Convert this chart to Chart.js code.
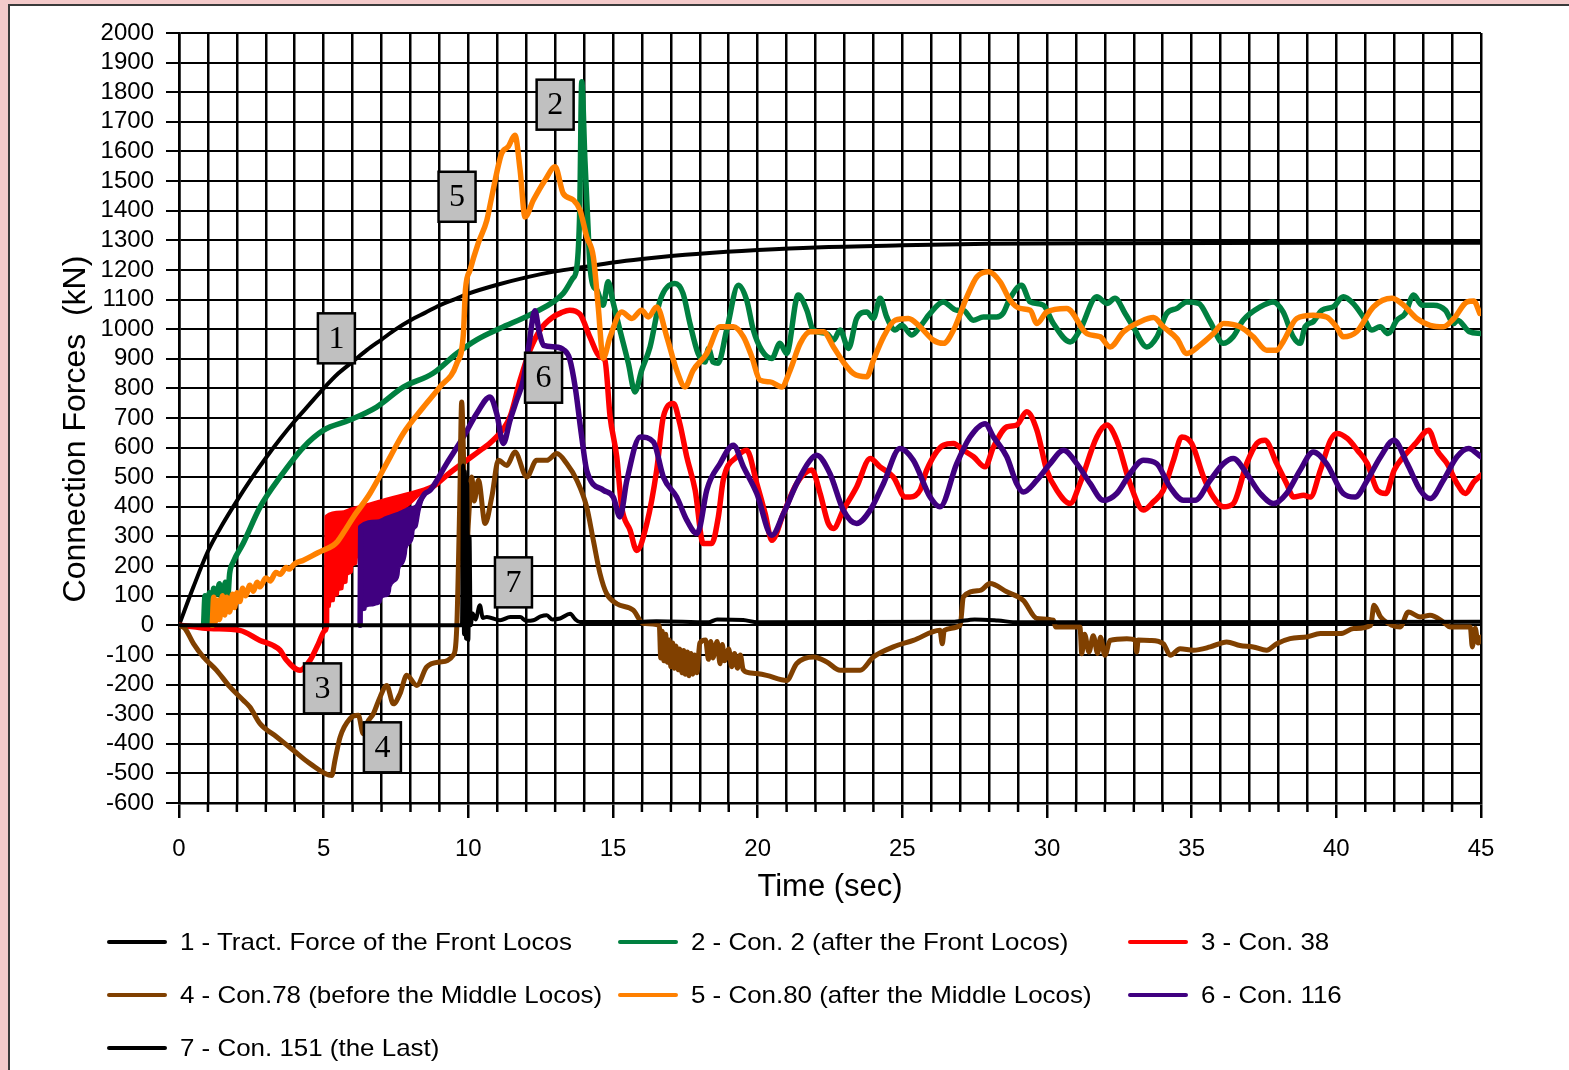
<!DOCTYPE html>
<html>
<head>
<meta charset="utf-8">
<script src="https://cdn.jsdelivr.net/npm/chart.js@4.4.1/dist/chart.umd.min.js"></script>
<style>
  html, body { margin: 0; padding: 0; width: 1569px; height: 1070px; overflow: hidden; background: #F4CACA; }
  #panel { position: absolute; left: 8px; top: 4px; width: 1600px; height: 1100px; background: #fff;
           border: 2px solid #3a3a3a; box-sizing: border-box; }
  #wrap { position: absolute; left: 0; top: 0; width: 1569px; height: 910px; }
  #legend { position: absolute; left: 0; top: 0; width: 1569px; height: 1070px;
            font-family: "Liberation Sans", Arial, sans-serif; font-size: 24px; color: #000; }
  .item { position: absolute; display: flex; align-items: center; height: 30px; }
  .swatch { width: 60px; height: 4px; margin-right: 13px; border-radius: 2px; }
  .lbl { transform: scaleX(1.08); transform-origin: left center; white-space: pre; }
</style>
</head>
<body>
<div id="panel"></div>
<div id="wrap"><canvas id="chart"></canvas></div>
<div id="legend"></div>
<script>
// Connection forces along the train, [time s, force kN]

const seriesNames = [
  '1 - Tract. Force of the Front Locos',
  '2 - Con. 2 (after the Front Locos)',
  '3 - Con. 38',
  '4 - Con.78 (before the Middle Locos)',
  '5 - Con.80 (after the Middle Locos)',
  '6 - Con. 116',
  '7 - Con. 151 (the Last)'
];
const seriesColors = ['#000000', '#008040', '#FF0000', '#804000', '#FF8000', '#400080', '#000000'];

const tractForce = [[0,0],[0.5,130],[1,250],[1.5,340],[2,420],[2.5,495],[3,565],[3.5,630],[4,690],[4.5,745],
  [5,800],[5.5,850],[6,890],[6.5,930],[7,965],[7.5,1000],[8,1030],[8.5,1055],[9,1080],[9.5,1100],[10,1120],
  [11,1150],[12,1175],[13,1195],[14,1210],[15,1225],[16,1237],[17,1247],[18,1255],[20,1267],[22,1276],
  [25,1283],[28,1288],[32,1290],[45,1292]];

const con2 = [[0.85,0],[0.9,100],[0.97,5],[1.05,110],[1.12,30],[1.2,125],[1.3,105],[1.4,140],[1.5,70],[1.6,145],
  [1.68,90],[1.75,175],[1.87,213],[2.22,277],[2.8,399],[3.49,500],[4.3,601],[5.0,659],[5.9,693],[6.83,737],
  [7.75,804],[8.78,851],[9.6,918],[10.3,965],[11.1,1003],[12.24,1054],[13.28,1121],[13.6,1170],[13.75,1209],
  [13.85,1400],[13.92,1835],[14.03,1570],[14.12,1380],[14.2,1220],[14.3,1150],[14.44,1132],[14.66,1081],
  [14.83,1160],[15.0,1092],[15.24,997],[15.53,885],[15.76,788],[15.99,861],[16.28,940],[16.63,1098],
  [17.14,1154],[17.42,1121],[17.66,1019],[17.94,918],[18.18,889],[18.3,935],[18.46,889],[18.63,885],
  [18.93,997],[19.33,1148],[19.62,1098],[19.85,997],[20.14,929],[20.49,901],[20.77,952],[21.0,918],
  [21.4,1115],[21.7,1064],[21.92,997],[22.39,985],[22.62,963],[22.85,997],[23.14,935],[23.42,1036],
  [23.77,1058],[24.0,1036],[24.23,1104],[24.46,1041],[24.75,997],[24.98,1013],[25.33,980],[25.61,1008],
  [25.96,1053],[26.41,1092],[26.88,1064],[27.1,1064],[27.45,1030],[27.8,1041],[28.26,1041],[28.48,1053],
  [28.72,1104],[29.12,1148],[29.42,1092],[29.87,1081],[30.22,1019],[30.8,957],[31.14,997],[31.72,1109],
  [32.07,1087],[32.35,1104],[32.7,1053],[32.98,1008],[33.45,940],[33.8,974],[34.14,1053],[34.49,1070],
  [34.83,1092],[35.24,1087],[35.64,1025],[36.09,952],[36.43,974],[36.78,1030],[37.37,1075],[37.82,1092],
  [38.16,1058],[38.51,974],[38.75,952],[38.92,1008],[39.2,1025],[39.5,1064],[39.89,1075],[40.24,1109],
  [40.58,1087],[40.93,1041],[41.23,997],[41.51,1008],[41.79,985],[42.09,1030],[42.38,1053],[42.67,1115],
  [42.96,1081],[43.36,1081],[43.77,1064],[44.06,1019],[44.19,1030],[44.6,991],[45,985]];

// upper edge of the oscillating band is part of the line itself
const con38 = [[0,0],[0.5,-5],[1.07,-11],[2.1,-17],[2.8,-51],[3.25,-68],[3.49,-84],[3.72,-118],[4.18,-152],
  [4.53,-118],[4.82,-62],[5.05,-17],[5.1,0],[5.12,366],[5.6,378],[6.0,390],[6.5,403],[7.0,417],[7.5,430],
  [8.0,443],[8.45,456],[8.8,470],[9.3,510],[9.94,557],[10.4,590],[10.86,625],[11.44,704],[11.79,828],
  [12.13,929],[12.5,1000],[12.93,1041],[13.2,1055],[13.5,1064],[13.86,1050],[14.2,974],[14.55,906],
  [14.72,895],[14.9,704],[15.13,569],[15.3,400],[15.59,321],[15.82,253],[16.17,344],[16.51,524],[16.74,704],
  [17.09,749],[17.31,681],[17.55,569],[17.84,456],[18.12,276],[18.41,276],[18.64,366],[18.81,490],
  [19.28,569],[19.62,591],[19.97,479],[20.26,377],[20.49,287],[20.89,377],[21.35,479],[21.87,524],
  [22.16,445],[22.44,344],[22.62,327],[22.96,389],[23.42,467],[23.89,563],[24.23,535],[24.69,501],
  [25.1,433],[25.27,433],[25.61,456],[25.84,524],[26.42,608],[26.77,614],[27.11,591],[27.46,569],
  [27.86,535],[28.15,602],[28.61,670],[28.95,676],[29.3,721],[29.65,659],[29.99,524],[30.34,456],
  [30.8,411],[31.14,479],[31.72,636],[32.07,676],[32.41,625],[32.87,479],[33.33,389],[33.68,417],
  [34.02,456],[34.37,557],[34.66,636],[35.0,614],[35.41,501],[35.75,433],[36.1,400],[36.44,411],
  [36.9,546],[37.25,614],[37.53,625],[37.94,546],[38.28,479],[38.52,433],[38.87,439],[39.1,433],
  [39.45,524],[39.8,625],[40.03,648],[40.38,631],[40.73,591],[41.07,546],[41.42,456],[41.71,445],
  [42.0,524],[42.32,569],[42.74,614],[43.19,659],[43.48,591],[43.83,546],[44.17,479],[44.46,445],
  [44.75,484],[45,507]];
const con38BandEnd = 8.8;
const con38Low = [[5.1,0],[5.14,60],[5.22,62],[5.24,78],[5.36,82],[5.38,98],[5.5,102],[5.52,118],[5.66,122],
  [5.68,140],[5.8,145],[5.82,170],[5.98,178],[6.0,200],[6.14,208],[6.16,228],[6.3,235],[6.5,260],[7.0,320],
  [7.5,370],[8.0,410],[8.45,450],[8.8,470]];

const con78 = [[0,0],[0.2,-10],[0.5,-62],[0.84,-107],[1.3,-152],[1.76,-208],[2.22,-253],[2.45,-276],[2.8,-332],
  [3.38,-377],[3.95,-422],[4.53,-467],[5.28,-507],[5.39,-456],[5.57,-377],[5.91,-315],[6.2,-304],[6.37,-366],
  [6.5,-330],[6.72,-298],[6.95,-242],[7.18,-203],[7.41,-265],[7.64,-231],[7.87,-169],[8.22,-203],[8.56,-141],
  [9.02,-124],[9.48,-101],[9.6,-6],[9.7,400],[9.77,754],[9.85,500],[9.92,200],[10.0,344],[10.12,501],
  [10.2,420],[10.35,490],[10.58,344],[10.81,433],[11.04,557],[11.33,540],[11.61,585],[12.02,501],
  [12.36,557],[12.71,557],[13.06,580],[13.4,546],[13.75,490],[14.09,400],[14.32,287],[14.55,175],
  [14.78,107],[15.13,73],[15.7,51],[16.05,6],[16.6,0],[16.65,-110],[16.7,-20],[16.76,-120],[16.82,-30],
  [16.88,-125],[16.94,-50],[17.0,-140],[17.06,-60],[17.12,-145],[17.18,-70],[17.25,-150],[17.31,-80],
  [17.38,-160],[17.44,-85],[17.5,-165],[17.57,-90],[17.63,-170],[17.7,-95],[17.76,-165],[17.82,-100],
  [17.9,-160],[18.0,-60],[18.2,-50],[18.3,-115],[18.38,-55],[18.45,-110],[18.6,-55],[18.7,-130],
  [18.78,-65],[18.85,-120],[19.0,-80],[19.1,-140],[19.2,-95],[19.3,-145],[19.4,-100],[19.5,-150],
  [19.7,-160],[19.97,-163],[20.31,-169],[21.0,-186],[21.35,-129],[21.93,-107],[22.39,-124],[22.85,-152],
  [23.54,-152],[24.0,-107],[24.69,-73],[25.38,-51],[26.3,-17],[26.38,-62],[26.45,-17],[27.0,0],[27.11,96],
  [27.69,118],[28.03,141],[28.61,113],[29.18,84],[29.65,23],[30.22,17],[30.3,-6],[31.14,-6],[31.2,-96],
  [31.3,-30],[31.45,-90],[31.6,-35],[31.75,-95],[31.85,-40],[32.0,-101],[32.18,-51],[32.76,-45],
  [33.05,-50],[33.1,-90],[33.15,-50],[33.56,-51],[34.02,-62],[34.26,-101],[34.6,-79],[35.06,-84],
  [35.64,-73],[36.21,-56],[36.67,-68],[37.13,-73],[37.59,-84],[37.94,-62],[38.4,-45],[38.98,-39],
  [39.45,-28],[40.14,-28],[40.6,-11],[41.19,0],[41.3,68],[41.53,28],[41.92,0],[42.2,-6],[42.49,45],
  [42.9,28],[43.24,34],[43.7,11],[43.94,-6],[44.63,-6],[44.7,-73],[44.8,-10],[44.9,-60],[45,-40]];

const con80 = [[1.15,0],[1.2,95],[1.25,10],[1.33,85],[1.4,20],[1.5,100],[1.58,35],[1.65,95],[1.75,45],
  [1.85,105],[1.92,60],[2.0,110],[2.1,80],[2.2,125],[2.3,100],[2.45,135],[2.57,115],[2.7,145],[2.8,130],
  [3.0,160],[3.15,150],[3.35,178],[3.5,172],[3.7,195],[3.8,190],[4.0,208],[4.3,220],
  [4.8,245],[5.33,270],[5.45,280],[5.7,315],[6.03,366],[6.6,445],[7.3,569],[7.75,648],[8.45,737],
  [9.02,805],[9.6,884],[9.83,985],[9.9,1132],[10.06,1200],[10.34,1290],[10.64,1368],[10.81,1447],
  [11.15,1593],[11.38,1616],[11.61,1655],[11.79,1537],[11.96,1379],[12.25,1436],[12.65,1503],[13.0,1548],
  [13.28,1458],[13.63,1436],[13.86,1402],[14.09,1312],[14.32,1244],[14.49,1075],[14.66,902],[14.9,974],
  [15.3,1058],[15.65,1036],[15.99,1064],[16.22,1041],[16.51,1075],[16.86,974],[17.2,861],[17.49,805],
  [17.77,861],[18.24,918],[18.7,1008],[19.16,1008],[19.51,974],[19.8,906],[20.08,828],[20.43,822],
  [20.83,805],[21.12,861],[21.47,952],[21.81,991],[22.27,991],[22.62,940],[22.96,889],[23.31,850],
  [23.77,839],[24.0,895],[24.35,974],[24.75,1030],[25.21,1036],[25.61,1008],[26.07,963],[26.42,952],
  [26.77,997],[27.23,1109],[27.58,1177],[27.98,1194],[28.38,1160],[28.72,1098],[29.07,1070],[29.42,1064],
  [29.65,1019],[29.99,1058],[30.68,1070],[31.38,985],[31.84,974],[32.18,940],[32.64,991],[33.22,1025],
  [33.68,1039],[34.02,1008],[34.49,968],[34.83,918],[35.29,946],[35.75,985],[36.1,1019],[36.67,1008],
  [37.13,974],[37.59,929],[37.94,929],[38.16,957],[38.63,1036],[39.2,1047],[39.66,1041],[40.0,1008],
  [40.24,974],[40.7,991],[41.28,1075],[41.92,1104],[42.32,1081],[42.78,1036],[43.24,1013],[43.7,1008],
  [44.06,1036],[44.52,1092],[44.75,1095],[44.96,1053]];

const con116 = [[6.26,0],[6.28,332],[6.83,348],[7.18,360],[7.52,372],[7.75,382],[7.98,392],[8.22,400],
  [8.33,420],[8.5,445],[8.68,456],[9.25,546],[9.83,636],[10.29,715],[10.75,771],[10.98,715],[11.21,614],
  [11.44,692],[11.67,760],[11.9,828],[12.1,950],[12.3,1062],[12.45,990],[12.6,945],[13.0,940],[13.3,930],
  [13.5,900],[13.7,800],[13.9,650],[14.1,520],[14.67,456],[15.01,433],[15.24,366],[15.48,490],[15.94,636],
  [16.4,619],[16.74,501],[17.2,433],[17.55,355],[17.9,310],[18.0,330],[18.24,456],[18.7,546],[19.16,608],
  [19.51,535],[19.97,445],[20.49,304],[20.89,377],[21.35,479],[21.81,557],[22.04,574],[22.5,512],
  [22.96,389],[23.42,344],[23.89,389],[24.35,479],[24.92,597],[25.38,557],[25.96,433],[26.3,400],
  [26.88,546],[27.34,636],[27.86,681],[28.15,636],[28.61,569],[28.95,479],[29.18,450],[29.65,490],
  [30.11,546],[30.57,591],[31.03,546],[31.49,479],[31.95,422],[32.41,445],[32.87,512],[33.33,557],
  [33.79,546],[34.25,467],[34.71,422],[35.12,422],[35.64,490],[36.1,546],[36.44,563],[36.9,512],
  [37.37,445],[37.83,411],[38.28,445],[38.75,524],[39.2,585],[39.66,546],[40.24,445],[40.65,433],
  [41.07,490],[41.53,569],[41.99,625],[42.45,546],[42.9,456],[43.25,428],[43.7,490],[44.17,569],
  [44.57,597],[45,569]];
const con116BandEnd = 8.5;
const con116Low = [[6.26,0],[6.3,48],[6.45,52],[6.47,62],[6.7,66],[6.83,70],[6.98,78],[7.0,90],[7.18,98],
  [7.3,115],[7.32,130],[7.52,152],[7.6,170],[7.62,190],[7.75,208],[7.85,240],[7.87,258],[7.98,276],
  [8.1,300],[8.12,320],[8.22,332],[8.33,388],[8.5,445]];

const con151 = [[0,0],[9.7,0],[9.78,0],[9.82,540],[9.85,-30],[9.88,520],[9.92,-45],[9.96,480],[10.0,-50],
  [10.04,300],[10.08,0],[10.15,40],[10.25,20],[10.4,68],[10.5,25],[10.64,28],[11.1,17],[11.45,28],
  [11.79,28],[12.0,15],[12.25,17],[12.5,30],[12.71,34],[12.9,20],[13.17,23],[13.52,39],[13.7,20],
  [13.86,11],[15.94,11],[16.5,14],[18.3,10],[18.6,20],[19.5,18],[20,10],[26.8,12],[27.5,20],[28.3,16],
  [29,10],[45,12]];

// numbered call-out boxes, anchored in [time, force]
const calloutText = ['1', '2', '3', '4', '5', '6', '7'];
const calloutAt = [[5.44,969],[13.0,1758],[4.96,-213],[7.03,-412],[9.61,1447],[12.6,836],[11.56,145]];

const xTicksMin = 0, xTicksMax = 45, yTicksMin = -600, yTicksMax = 2000;
const yTitle = 'Connection Forces  (kN)';

const xy = arr => arr.map(p => ({ x: p[0], y: p[1] }));
const FONT = '"Liberation Sans", Arial, sans-serif';

function lineSet(data, color, width, order) {
  return { data: xy(data), borderColor: color, backgroundColor: color, borderWidth: width,
           pointRadius: 0, fill: false, order: order, cubicInterpolationMode: 'monotone',
           borderJoinStyle: 'round', borderCapStyle: 'round' };
}

const datasets = [
  lineSet(tractForce, seriesColors[0], 4, 8),
  lineSet(con2, seriesColors[1], 5.5, 7),
  lineSet(con38.filter(p => p[0] >= 5.1 && p[0] <= con38BandEnd), seriesColors[2], 1.5, 6),
  Object.assign(lineSet(con38Low, seriesColors[2], 1.5, 6), { fill: '-1' }),
  lineSet(con38, seriesColors[2], 5.5, 5),
  lineSet(con116.filter(p => p[0] <= con116BandEnd), seriesColors[5], 1.5, 4),
  Object.assign(lineSet(con116Low, seriesColors[5], 1.5, 4), { fill: '-1' }),
  lineSet(con116, seriesColors[5], 5.5, 3),
  lineSet(con80, seriesColors[4], 5.5, 2),
  lineSet(con78, seriesColors[3], 5, 1),
  lineSet(con151, seriesColors[6], 4, 0)
];

const minorTicks = {
  id: 'minorTicks',
  afterDraw(chart) {
    const { ctx, scales: { x, y } } = chart;
    const base = y.getPixelForValue(yTicksMin);
    ctx.save();
    ctx.strokeStyle = '#000';
    ctx.lineWidth = 2.5;
    x.ticks.forEach(t => {
      if (t.value % 5 !== 0) {
        const px = x.getPixelForValue(t.value);
        ctx.beginPath(); ctx.moveTo(px, base); ctx.lineTo(px, base + 9); ctx.stroke();
      }
    });
    // vertical axis title
    ctx.translate(76, (chart.chartArea.top + chart.chartArea.bottom) / 2 + 11);
    ctx.rotate(-Math.PI / 2);
    ctx.fillStyle = '#000';
    ctx.font = '32px ' + FONT;
    ctx.textAlign = 'center';
    ctx.textBaseline = 'middle';
    ctx.fillText(yTitle, 0, 0);
    ctx.restore();
  }
};

const callouts = {
  id: 'callouts',
  afterDatasetsDraw(chart) {
    const { ctx, scales: { x, y } } = chart;
    ctx.save();
    calloutText.forEach((txt, i) => {
      const cx = x.getPixelForValue(calloutAt[i][0]);
      const cy = y.getPixelForValue(calloutAt[i][1]);
      const w = 37, h = 50;
      ctx.fillStyle = '#C0C0C0';
      ctx.fillRect(cx - w / 2, cy - h / 2, w, h);
      ctx.strokeStyle = '#000';
      ctx.lineWidth = 2.5;
      ctx.strokeRect(cx - w / 2, cy - h / 2, w, h);
      ctx.fillStyle = '#000';
      ctx.font = '32px "Liberation Serif", "Times New Roman", serif';
      ctx.textAlign = 'center';
      ctx.textBaseline = 'middle';
      ctx.fillText(txt, cx, cy + 1);
    });
    ctx.restore();
  }
};

new Chart(document.getElementById('chart'), {
  type: 'line',
  data: { datasets },
  options: {
    responsive: true,
    maintainAspectRatio: false,
    animation: false,
    devicePixelRatio: 1,
    events: [],
    layout: { padding: { left: 0, right: 88, top: 33, bottom: 0 } },
    plugins: { legend: { display: false }, tooltip: { enabled: false } },
    scales: {
      x: {
        type: 'linear', min: xTicksMin, max: xTicksMax,
        afterFit(s) { s.height = 107; s.paddingLeft = 0; s.paddingRight = 0; },
        ticks: {
          stepSize: 1, autoSkip: false, maxTicksLimit: 100, maxRotation: 0, padding: 17,
          color: '#000', font: { family: FONT, size: 24 },
          callback: v => (v % 5 === 0 ? String(v) : '')
        },
        grid: {
          color: '#000', lineWidth: 2.5, tickLength: 15,
          tickColor: c => (c.tick && c.tick.value % 5 === 0 ? '#000' : 'rgba(0,0,0,0)'), tickWidth: 2.5
        },
        border: { color: '#000', width: 2.5 },
        title: { display: true, text: 'Time (sec)', color: '#000',
                 font: { family: FONT, size: 31 }, padding: { top: 0, bottom: 4 } }
      },
      y: {
        min: yTicksMin, max: yTicksMax,
        afterFit(s) { s.width = 179; s.paddingTop = 0; s.paddingBottom = 0; },
        ticks: {
          stepSize: 100, autoSkip: false, maxTicksLimit: 100, padding: 12,
          color: '#000', font: { family: FONT, size: 24 },
          callback: v => String(v)
        },
        grid: { color: '#000', lineWidth: 2, tickLength: 13, tickColor: '#000', tickWidth: 2 },
        border: { color: '#000', width: 2.5 },
        title: { display: false }
      }
    }
  },
  plugins: [minorTicks, callouts]
});

// legend, three columns
const legendCols = [107, 618, 1128];
const legendRows = [942, 995, 1048];
const legendBox = document.getElementById('legend');
seriesNames.forEach((name, i) => {
  const item = document.createElement('div');
  item.className = 'item';
  item.style.left = legendCols[i % 3] + 'px';
  item.style.top = (legendRows[Math.floor(i / 3)] - 15) + 'px';
  const sw = document.createElement('div');
  sw.className = 'swatch';
  sw.style.background = seriesColors[i];
  const lb = document.createElement('span');
  lb.className = 'lbl';
  lb.textContent = name;
  item.appendChild(sw);
  item.appendChild(lb);
  legendBox.appendChild(item);
});
</script>
</body>
</html>
